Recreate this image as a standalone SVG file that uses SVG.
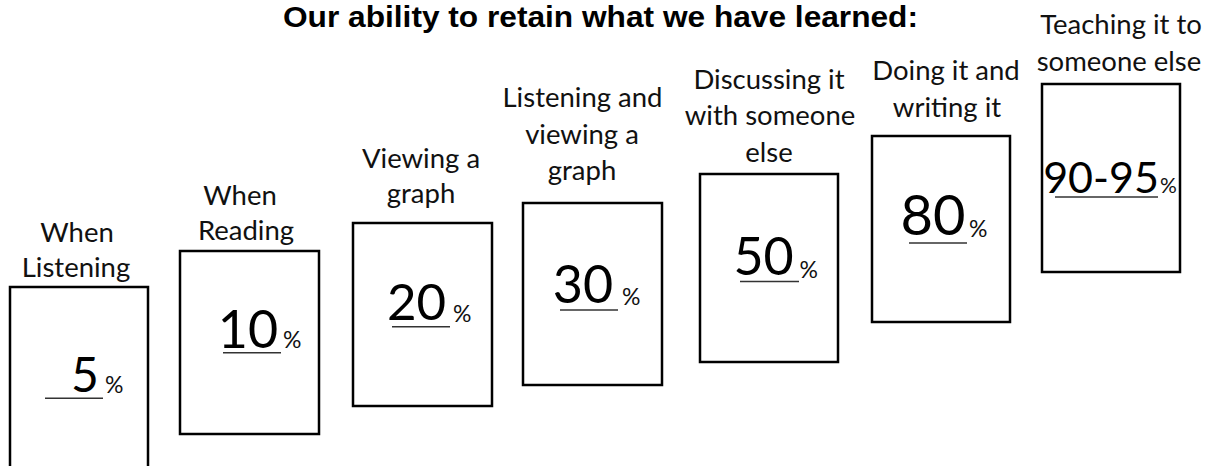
<svg xmlns="http://www.w3.org/2000/svg" width="1215" height="466" viewBox="0 0 1215 466">
<style>
.box{fill:#fff;stroke:#000;stroke-width:2.5}
.lbl{font-family:Lato,"Open Sans","Liberation Sans",sans-serif;font-size:27.5px;fill:#111;text-anchor:middle}
.num{font-family:Lato,"Noto Sans","Liberation Sans",sans-serif;font-size:52px;fill:#000;text-anchor:middle}
.pct{font-family:Lato,"Open Sans","Liberation Sans",sans-serif;font-size:23px;fill:#111}
.ul{stroke:#333;stroke-width:1.4}
.title{font-family:"Liberation Sans",Arial,sans-serif;font-weight:bold;font-size:29px;fill:#000}
</style>
<rect width="1215" height="466" fill="#fff"/>
<text class="title" x="283" y="26.5" textLength="635" lengthAdjust="spacingAndGlyphs">Our ability to retain what we have learned:</text>
<g id="connectors"/>
<g id="n1">
<text class="lbl" x="77" y="242">When</text>
<text class="lbl" x="76" y="277">Listening</text>
<rect class="box" x="10" y="287" width="138" height="200"/>
<line class="ul" x1="45" y1="398.3" x2="103" y2="398.3"/>
<text class="num" x="85" y="392" style="font-size:48px">5</text>
<text class="pct" x="105" y="393">%</text>
</g>
<g id="n2">
<text class="lbl" x="240" y="205">When</text>
<text class="lbl" x="246" y="240">Reading</text>
<rect class="box" x="180" y="251" width="139" height="183"/>
<line class="ul" x1="223" y1="352.7" x2="281" y2="352.7"/>
<text class="num" x="248" y="348">10</text>
<text class="pct" x="283" y="348">%</text>
</g>
<g id="n3">
<text class="lbl" x="421" y="168">Viewing a</text>
<text class="lbl" x="421" y="203">graph</text>
<rect class="box" x="353" y="223" width="139" height="183"/>
<line class="ul" x1="392" y1="326.7" x2="450" y2="326.7"/>
<text class="num" x="416.5" y="320" style="font-size:51px">20</text>
<text class="pct" x="453" y="322">%</text>
</g>
<g id="n4">
<text class="lbl" x="582.5" y="107">Listening and</text>
<text class="lbl" x="582" y="143.5">viewing a</text>
<text class="lbl" x="582" y="180">graph</text>
<rect class="box" x="523" y="203" width="139" height="182"/>
<line class="ul" x1="560" y1="310" x2="618" y2="310"/>
<text class="num" x="583" y="303">30</text>
<text class="pct" x="622" y="305">%</text>
</g>
<g id="n5">
<text class="lbl" x="769" y="88.5">Discussing it</text>
<text class="lbl" x="770" y="125">with someone</text>
<text class="lbl" x="769" y="162">else</text>
<rect class="box" x="700" y="174" width="138" height="188"/>
<line class="ul" x1="740" y1="281.5" x2="799" y2="281.5"/>
<text class="num" x="763.6" y="274.7">50</text>
<text class="pct" x="799.5" y="278">%</text>
</g>
<g id="n6">
<text class="lbl" x="946" y="80">Doing it and</text>
<text class="lbl" x="947" y="117">writing it</text>
<rect class="box" x="872" y="136" width="138" height="186"/>
<line class="ul" x1="909" y1="243" x2="967" y2="243"/>
<text class="num" x="933" y="235.4" style="font-size:56px">80</text>
<text class="pct" x="969" y="237">%</text>
</g>
<g id="n7">
<text class="lbl" x="1121" y="34">Teaching it to</text>
<text class="lbl" x="1119" y="71">someone else</text>
<rect class="box" x="1042" y="84" width="138" height="188"/>
<line class="ul" x1="1055" y1="197" x2="1158" y2="197"/>
<text class="num" x="1101" y="193" style="font-size:43px">90-95</text>
<text class="pct" x="1160" y="193" style="font-size:21px">%</text>
</g>
</svg>
